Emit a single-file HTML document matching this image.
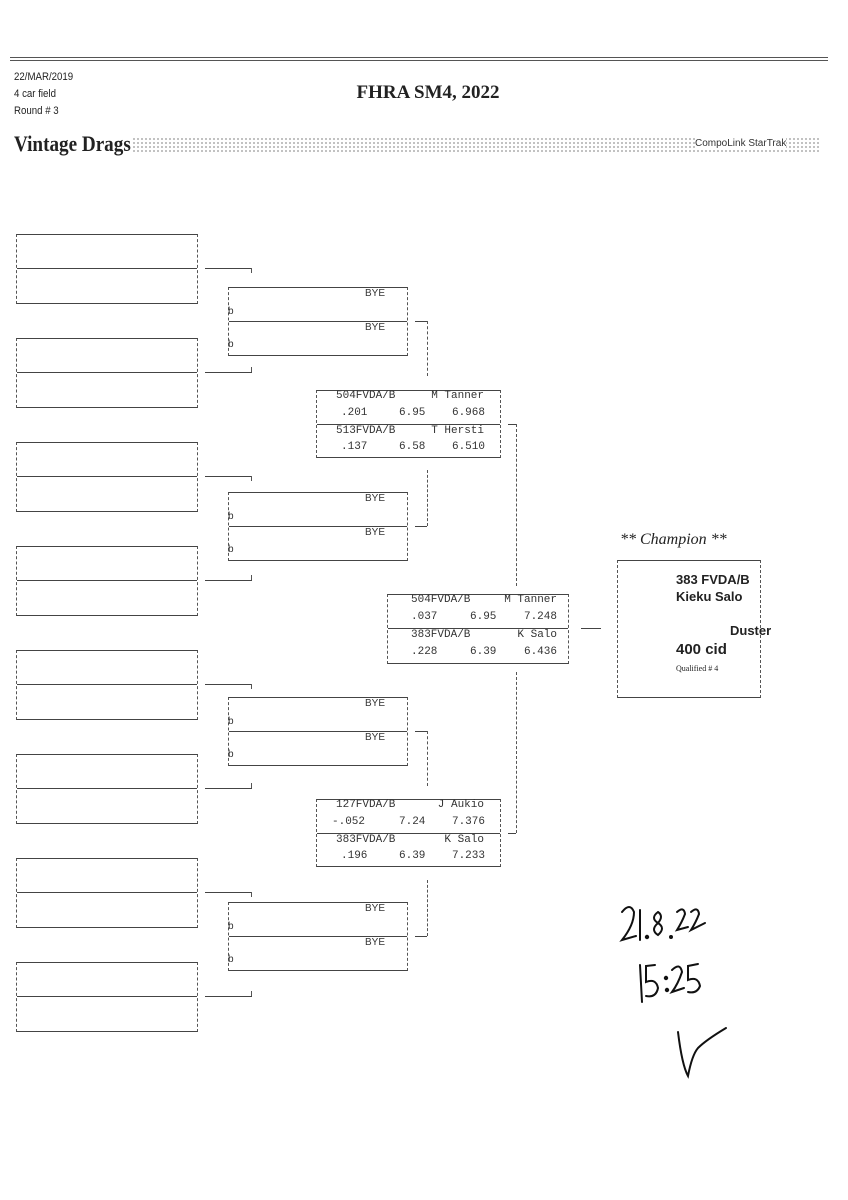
<!DOCTYPE html>
<html><head><meta charset="utf-8"><style>
body{margin:0;width:848px;height:1200px;background:#fff;position:relative;overflow:hidden;font-family:"Liberation Sans",sans-serif;color:#222}
.a{position:absolute}
.bx{position:absolute;border-top:1px solid #444;border-bottom:1px solid #444;border-left:1px dashed #555;border-right:1px dashed #555;box-sizing:border-box}
.mid{position:absolute;left:0;right:0;height:0;border-top:1px solid #444}
.h{position:absolute;height:0;border-top:1px solid #444}
.v{position:absolute;width:0;border-left:1px dashed #555}
.m{position:absolute;font-family:"Liberation Mono",monospace;font-size:11px;line-height:12px;color:#333}
.bye{position:absolute;font-size:10px;color:#333}
</style></head><body>
<div class="h" style="left:10px;width:818px;top:57px;border-top:1px solid #555"></div>
<div class="h" style="left:10px;width:818px;top:60px;border-top:1px solid #555"></div>
<div class="a" style="left:14px;top:69px;font-size:11px;line-height:17px;transform:scaleX(0.88);transform-origin:left">22/MAR/2019<br>4 car field<br>Round # 3</div>
<div class="a" style="left:0;width:856px;top:82px;text-align:center;font:bold 19px 'Liberation Serif',serif">FHRA SM4, 2022</div>
<div class="a" style="left:132px;top:137px;width:688px;height:17px;background-image:radial-gradient(#999 0.7px,transparent 1px);background-size:4px 4px"></div>
<div class="a" style="left:14px;top:131px;font:bold 22px 'Liberation Serif',serif;transform:scaleX(0.87);transform-origin:left;background:#fff">Vintage Drags</div>
<div class="a" style="left:695px;top:138px;font-size:10px;color:#333;background:#fff">CompoLink StarTrak</div>

<!-- round 1 -->
<div class="bx" style="left:16px;top:234px;width:182px;height:70px"><div class="mid" style="top:33px"></div></div>
<div class="bx" style="left:16px;top:338px;width:182px;height:70px"><div class="mid" style="top:33px"></div></div>
<div class="bx" style="left:16px;top:442px;width:182px;height:70px"><div class="mid" style="top:33px"></div></div>
<div class="bx" style="left:16px;top:546px;width:182px;height:70px"><div class="mid" style="top:33px"></div></div>
<div class="bx" style="left:16px;top:650px;width:182px;height:70px"><div class="mid" style="top:33px"></div></div>
<div class="bx" style="left:16px;top:754px;width:182px;height:70px"><div class="mid" style="top:33px"></div></div>
<div class="bx" style="left:16px;top:858px;width:182px;height:70px"><div class="mid" style="top:33px"></div></div>
<div class="bx" style="left:16px;top:962px;width:182px;height:70px"><div class="mid" style="top:33px"></div></div>
<!-- r1 connectors -->
<div class="h" style="left:205px;width:47px;top:268px"></div><div class="v" style="left:251px;top:268px;height:5px"></div>
<div class="h" style="left:205px;width:47px;top:372px"></div><div class="v" style="left:251px;top:367px;height:5px"></div>
<div class="h" style="left:205px;width:47px;top:476px"></div><div class="v" style="left:251px;top:476px;height:5px"></div>
<div class="h" style="left:205px;width:47px;top:580px"></div><div class="v" style="left:251px;top:575px;height:5px"></div>
<div class="h" style="left:205px;width:47px;top:684px"></div><div class="v" style="left:251px;top:684px;height:5px"></div>
<div class="h" style="left:205px;width:47px;top:788px"></div><div class="v" style="left:251px;top:783px;height:5px"></div>
<div class="h" style="left:205px;width:47px;top:892px"></div><div class="v" style="left:251px;top:892px;height:5px"></div>
<div class="h" style="left:205px;width:47px;top:996px"></div><div class="v" style="left:251px;top:991px;height:5px"></div>

<!-- round 2 -->
<div class="bx" style="left:228px;top:287px;width:180px;height:69px"><div class="mid" style="top:33px"></div><div class="bye" style="left:136px;top:0">BYE</div><div class="bye" style="left:136px;top:34px">BYE</div><div class="bye" style="left:-1px;top:18px">b</div><div class="bye" style="left:-1px;top:51px">b</div></div>
<div class="bx" style="left:228px;top:492px;width:180px;height:69px"><div class="mid" style="top:33px"></div><div class="bye" style="left:136px;top:0">BYE</div><div class="bye" style="left:136px;top:34px">BYE</div><div class="bye" style="left:-1px;top:18px">b</div><div class="bye" style="left:-1px;top:51px">b</div></div>
<div class="bx" style="left:228px;top:697px;width:180px;height:69px"><div class="mid" style="top:33px"></div><div class="bye" style="left:136px;top:0">BYE</div><div class="bye" style="left:136px;top:34px">BYE</div><div class="bye" style="left:-1px;top:18px">b</div><div class="bye" style="left:-1px;top:51px">b</div></div>
<div class="bx" style="left:228px;top:902px;width:180px;height:69px"><div class="mid" style="top:33px"></div><div class="bye" style="left:136px;top:0">BYE</div><div class="bye" style="left:136px;top:34px">BYE</div><div class="bye" style="left:-1px;top:18px">b</div><div class="bye" style="left:-1px;top:51px">b</div></div>
<!-- r2 connectors -->
<div class="h" style="left:415px;width:12px;top:321px"></div><div class="v" style="left:427px;top:321px;height:55px"></div>
<div class="h" style="left:415px;width:12px;top:526px"></div><div class="v" style="left:427px;top:470px;height:56px"></div>
<div class="h" style="left:415px;width:12px;top:731px"></div><div class="v" style="left:427px;top:731px;height:55px"></div>
<div class="h" style="left:415px;width:12px;top:936px"></div><div class="v" style="left:427px;top:880px;height:56px"></div>

<!-- round 3 -->
<div class="bx" style="left:316px;top:390px;width:185px;height:68px"><div class="mid" style="top:33px"></div>
<div class="m" style="left:19px;top:-1px">504FVDA/B</div><div class="m" style="right:16px;top:-1px">M Tanner</div>
<div class="m" style="left:24px;top:16px">.201</div><div class="m" style="left:82px;top:16px">6.95</div><div class="m" style="right:15px;top:16px">6.968</div>
<div class="m" style="left:19px;top:34px">513FVDA/B</div><div class="m" style="right:16px;top:34px">T Hersti</div>
<div class="m" style="left:24px;top:50px">.137</div><div class="m" style="left:82px;top:50px">6.58</div><div class="m" style="right:15px;top:50px">6.510</div></div>
<div class="bx" style="left:316px;top:799px;width:185px;height:68px"><div class="mid" style="top:33px"></div>
<div class="m" style="left:19px;top:-1px">127FVDA/B</div><div class="m" style="right:16px;top:-1px">J Aukio</div>
<div class="m" style="left:15px;top:16px">-.052</div><div class="m" style="left:82px;top:16px">7.24</div><div class="m" style="right:15px;top:16px">7.376</div>
<div class="m" style="left:19px;top:34px">383FVDA/B</div><div class="m" style="right:16px;top:34px">K Salo</div>
<div class="m" style="left:24px;top:50px">.196</div><div class="m" style="left:82px;top:50px">6.39</div><div class="m" style="right:15px;top:50px">7.233</div></div>
<!-- r3 connectors -->
<div class="h" style="left:508px;width:8px;top:424px"></div><div class="v" style="left:516px;top:424px;height:162px"></div>
<div class="h" style="left:508px;width:8px;top:833px"></div><div class="v" style="left:516px;top:672px;height:161px"></div>

<!-- round 4 -->
<div class="bx" style="left:387px;top:594px;width:182px;height:70px"><div class="mid" style="top:33px"></div>
<div class="m" style="left:23px;top:-1px">504FVDA/B</div><div class="m" style="right:11px;top:-1px">M Tanner</div>
<div class="m" style="left:23px;top:16px">.037</div><div class="m" style="left:82px;top:16px">6.95</div><div class="m" style="right:11px;top:16px">7.248</div>
<div class="m" style="left:23px;top:34px">383FVDA/B</div><div class="m" style="right:11px;top:34px">K Salo</div>
<div class="m" style="left:23px;top:51px">.228</div><div class="m" style="left:82px;top:51px">6.39</div><div class="m" style="right:11px;top:51px">6.436</div></div>
<div class="h" style="left:581px;width:20px;top:628px"></div>

<!-- champion -->
<div class="a" style="left:620px;top:531px;font:italic 16px 'Liberation Serif',serif">** Champion **</div>
<div class="bx" style="left:617px;top:560px;width:144px;height:138px">
<div class="a" style="left:58px;top:10px;font:bold 13px/17px 'Liberation Sans',sans-serif">383 FVDA/B<br>Kieku Salo</div>
<div class="a" style="left:112px;top:62px;font:bold 13px 'Liberation Sans',sans-serif">Duster</div>
<div class="a" style="left:58px;top:80px;font:bold 15px 'Liberation Sans',sans-serif">400 cid</div>
<div class="a" style="left:58px;top:103px;font:8px 'Liberation Serif',serif">Qualified # 4</div></div>

<!-- handwriting -->
<svg class="a" style="left:600px;top:890px" width="140" height="210" viewBox="0 0 140 210" fill="none" stroke="#111" stroke-width="2" stroke-linecap="round">
<path d="M22 22 Q30 12 34 22 Q34 35 22 50 L36 46"/>
<path d="M40 20 L40 50"/>
<circle cx="47" cy="47" r="1.2" fill="#111"/>
<path d="M58 22 Q50 28 58 33 Q66 38 58 45 Q50 40 58 33 Q64 26 58 22"/>
<circle cx="71" cy="47" r="1"/>
<path d="M77 22 Q84 16 85 24 Q82 32 77 40 L88 37"/>
<path d="M91 22 Q98 16 99 24 Q96 32 91 40 L105 33"/>
<path d="M40 75 L42 112"/>
<path d="M55 75 L46 76 L46 92 Q56 88 58 98 Q56 108 46 106"/>
<circle cx="66" cy="88" r="1.2" fill="#111"/><circle cx="67" cy="100" r="1.2" fill="#111"/>
<path d="M72 80 Q80 72 82 82 Q78 94 72 102 L84 98"/>
<path d="M98 74 L88 76 L88 90 Q98 86 100 96 Q97 104 88 102"/>
<path d="M78 142 Q82 175 88 186 Q92 165 98 158 Q106 150 126 138"/>
</svg>
</body></html>
